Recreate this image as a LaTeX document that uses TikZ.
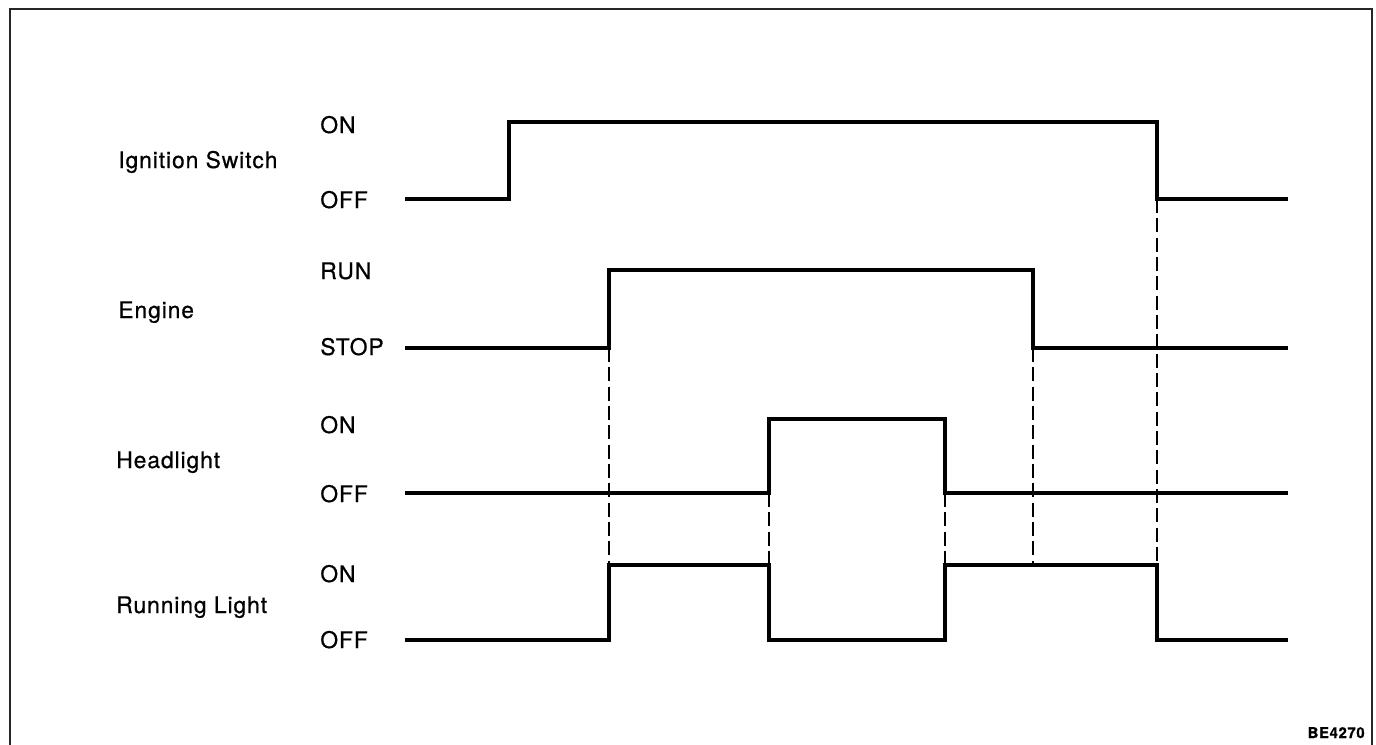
\documentclass[tikz,border=0pt]{standalone}
\usepackage{fontspec}
\setmainfont{TeX Gyre Heros}[LetterSpace=4, FakeBold=0.6]

\begin{document}
\begin{tikzpicture}[x=0.02cm, y=-0.02cm, font=\fontsize{13}{15}\selectfont,
  wave/.style={line width=2.2pt, line join=miter},
  guide/.style={line width=1.5pt, dash pattern=on 8pt off 3pt},
  lvl/.style={anchor=base west, inner sep=0pt},
  sig/.style={anchor=base west, inner sep=0pt}]
  \def\Xs{405}      % start of every trace
  \def\Xe{1288}     % end of every trace
  \def\Xlvl{320}    % left edge of the level labels

  \clip (0,0) rectangle (1376,744);
  % ----- frame (open at the bottom) -----
  \draw[line width=1.6pt, black!85] (10,9) rectangle (1372,770);

  % ----- Ignition Switch -----
  \node[sig] (ign) at (118,168) {Ignition Switch};
  \node[lvl] (ign-on) at (\Xlvl,133) {ON};
  \node[lvl] (ign-off) at (\Xlvl,208) {OFF};
  \coordinate (ign-dn) at (1157,199);
  \draw[wave] (\Xs,199) -- (509,199) -- (509,122) -- (1157,122) -- (ign-dn) -- (\Xe,199);

  % ----- Engine -----
  \node[sig] (eng) at (118,318) {Engine};
  \node[lvl] (eng-run) at (\Xlvl,279) {RUN};
  \node[lvl] (eng-stop) at (\Xlvl,355) {STOP};
  \coordinate (eng-up) at (609,348);
  \coordinate (eng-dn) at (1033,348);
  \draw[wave] (\Xs,348) -- (eng-up) -- (609,270) -- (1033,270) -- (eng-dn) -- (\Xe,348);

  % ----- Headlight -----
  \node[sig] (head) at (116,468) {Headlight};
  \node[lvl] (head-on) at (\Xlvl,433) {ON};
  \node[lvl] (head-off) at (\Xlvl,502) {OFF};
  \coordinate (head-up) at (769,493);
  \coordinate (head-dn) at (945,493);
  \draw[wave] (\Xs,493) -- (head-up) -- (769,419) -- (945,419) -- (head-dn) -- (\Xe,493);

  % ----- Running Light -----
  \node[sig] (run) at (116,613) {Running Light};
  \node[lvl] (run-on) at (\Xlvl,582) {ON};
  \node[lvl] (run-off) at (\Xlvl,648) {OFF};
  \coordinate (run-a) at (609,565);
  \coordinate (run-b) at (769,565);
  \coordinate (run-c) at (945,565);
  \coordinate (run-d) at (1033,565);
  \coordinate (run-e) at (1157,565);
  \draw[wave] (\Xs,640) -- (609,640) -- (run-a) -- (run-b) -- (769,640)
    -- (945,640) -- (run-c) -- (run-e) -- (1157,640) -- (\Xe,640);

  % ----- timing guides -----
  \draw[guide] (eng-up) -- (run-a);
  \draw[guide] (head-up) -- (run-b);
  \draw[guide] (head-dn) -- (run-c);
  \draw[guide] (eng-dn) -- (run-d);
  \draw[guide] (ign-dn) -- (run-e);

  \node[anchor=base east, inner sep=0pt, font=\fontsize{8.5}{10}\selectfont\bfseries]
    (code) at (1365,738) {BE4270};
\end{tikzpicture}
\end{document}
